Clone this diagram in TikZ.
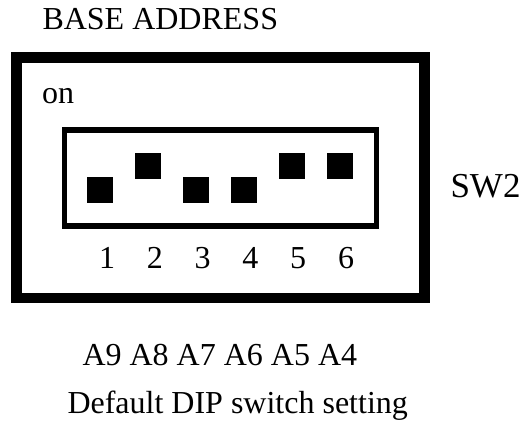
\documentclass[tikz,border=0pt]{standalone}
\usepackage{fontspec}
\setmainfont{Liberation Serif}
\begin{document}
\begin{tikzpicture}[x=1pt,y=-1pt,
  txt/.style={anchor=base west, inner sep=0pt, outer sep=0pt, font=\fontsize{32}{36}\selectfont},
  num/.style={anchor=base, inner sep=0pt, outer sep=0pt, font=\fontsize{32}{36}\selectfont},
  frame/.style={draw=black, inner sep=0pt, outer sep=0pt, anchor=center},
  swbox/.style={fill=black, draw=none, minimum size=26.5pt, inner sep=0pt, outer sep=0pt, anchor=north west}]
\useasboundingbox (0,0) rectangle (531,423);
% frames
\node[frame, line width=10.5pt, minimum width=408pt, minimum height=240.5pt] (outer) at (220.5,177.75) {};
\node[frame, line width=5.5pt, minimum width=312pt, minimum height=95.8pt] (inner) at (220.5,177.9) {};
% switches
\node[swbox] (s1) at (86.7,176.7) {};
\node[swbox] (s2) at (134.7,152.7) {};
\node[swbox] (s3) at (182.7,176.7) {};
\node[swbox] (s4) at (230.7,176.7) {};
\node[swbox] (s5) at (278.7,152.7) {};
\node[swbox] (s6) at (326.7,152.7) {};
% numbers
\node[num] (n1) at (107.0,268.3) {1};
\node[num] (n2) at (154.8,268.3) {2};
\node[num] (n3) at (202.6,268.3) {3};
\node[num] (n4) at (250.4,268.3) {4};
\node[num] (n5) at (298.2,268.3) {5};
\node[num] (n6) at (346.0,268.3) {6};
% texts
\node[txt] (title) at (42.5,29) {BASE ADDRESS};
\node[txt] (on) at (42,103) {on};
\node[txt, font=\fontsize{35}{40}\selectfont] (sw) at (450.5,197) {SW2};
\node[txt] (addr) at (82.5,365) {A9 A8 A7 A6 A5 A4};
\node[txt] (cap) at (67.5,413) {Default DIP switch setting};
\end{tikzpicture}
\end{document}
